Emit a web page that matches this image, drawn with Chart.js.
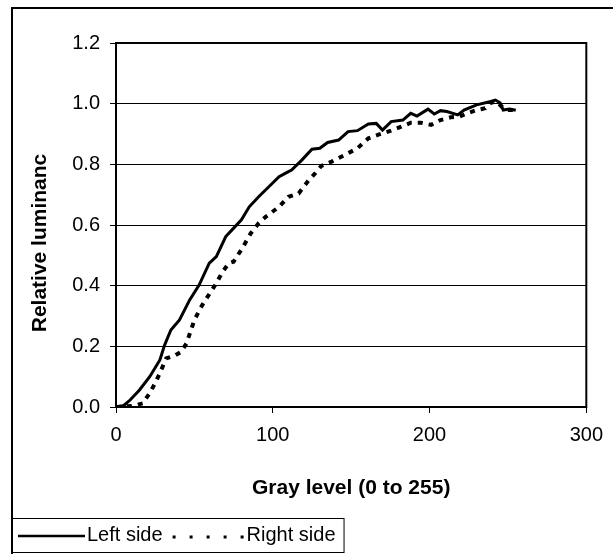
<!DOCTYPE html>
<html>
<head>
<meta charset="utf-8">
<script src="https://cdn.jsdelivr.net/npm/chart.js@4/dist/chart.umd.min.js"></script>
<style>
  html, body { margin: 0; padding: 0; background: #fff; }
  #wrap { width: 613px; height: 554px; position: relative; }
</style>
</head>
<body>
<div id="wrap"><canvas id="c" width="613" height="554"></canvas></div>
<script>
// ---- data ----
const leftGray = [0, 5, 9, 15, 21.5, 28, 31, 35, 40.5, 47, 53, 59.5, 64, 70, 74, 80, 85, 91, 97.5, 104, 110, 112, 118.5, 125, 130, 135, 142, 148, 154, 161, 166, 170, 175.5, 183, 188, 192, 199, 203, 207, 211, 218, 222, 230, 239, 242, 245, 247, 251, 255];
const leftLum  = [0, 0.005, 0.023, 0.056, 0.10, 0.155, 0.204, 0.254, 0.287, 0.353, 0.402, 0.474, 0.496, 0.562, 0.584, 0.617, 0.660, 0.693, 0.726, 0.759, 0.776, 0.781, 0.814, 0.850, 0.853, 0.872, 0.880, 0.908, 0.911, 0.933, 0.935, 0.913, 0.941, 0.946, 0.968, 0.959, 0.982, 0.966, 0.977, 0.974, 0.963, 0.979, 0.996, 1.007, 1.012, 1.003, 0.979, 0.982, 0.978];
const rightGray = [0, 10, 17, 21.5, 25, 28, 32, 38, 41.5, 45, 50, 55, 64, 68, 72, 75, 80.5, 86, 91, 95.5, 104, 110, 116.5, 123, 127, 131, 137.5, 146, 154, 161, 167, 175.5, 182, 188, 194.5, 201, 207, 213.5, 219, 224, 230, 235.5, 239, 243, 246, 249, 255];
const rightLum  = [0, 0.003, 0.012, 0.046, 0.079, 0.112, 0.16, 0.171, 0.182, 0.21, 0.287, 0.336, 0.408, 0.446, 0.474, 0.479, 0.523, 0.573, 0.606, 0.627, 0.660, 0.693, 0.704, 0.748, 0.770, 0.795, 0.809, 0.831, 0.853, 0.886, 0.897, 0.911, 0.924, 0.937, 0.937, 0.930, 0.946, 0.955, 0.957, 0.968, 0.979, 0.985, 1.003, 1.007, 0.99, 0.979, 0.979];
const xTicks = [0, 100, 200, 300];
const yTicks = [0, 0.2, 0.4, 0.6, 0.8, 1.0, 1.2];
const seriesNames = ['Left side', 'Right side'];
const xTitle = 'Gray level (0 to 255)';
const yTitle = 'Relative luminanc';

const FONT = "'Liberation Sans', Arial, Helvetica, sans-serif";

function pts(xs, ys) { return xs.map((x, i) => ({ x: x, y: ys[i] })); }

const framePlugin = {
  id: 'frame',
  beforeDraw(chart) {
    const ctx = chart.ctx;
    ctx.save();
    ctx.fillStyle = '#fff';
    ctx.fillRect(0, 0, chart.width, chart.height);
    ctx.strokeStyle = '#000';
    ctx.lineWidth = 2;
    ctx.beginPath();
    ctx.moveTo(12, 554); ctx.lineTo(12, 8); ctx.lineTo(613, 8);
    ctx.stroke();
    ctx.restore();
  },
  afterDraw(chart) {
    const ctx = chart.ctx;
    const a = chart.chartArea;
    ctx.save();
    ctx.strokeStyle = '#000';
    ctx.lineWidth = 2;
    ctx.strokeRect(a.left, a.top, a.right - a.left, a.bottom - a.top);
    ctx.fillStyle = '#000';
    ctx.font = "bold 21px " + FONT;
    ctx.textAlign = 'center';
    ctx.textBaseline = 'middle';
    ctx.translate(40, 243);
    ctx.rotate(-Math.PI / 2);
    ctx.fillText(yTitle, 0, 0);
    ctx.restore();

    // legend box
    ctx.save();
    const ds = chart.data.datasets;
    const top = 518, bottom = 552, left = 12;
    const midY = 535;
    ctx.font = "20px " + FONT;
    ctx.textBaseline = 'middle';
    ctx.textAlign = 'left';
    let x = 18;
    ctx.strokeStyle = '#000';
    ctx.lineWidth = 2.5;
    ctx.setLineDash([]);
    ctx.beginPath(); ctx.moveTo(x, midY + 1); ctx.lineTo(x + 67, midY + 1); ctx.stroke();
    x += 69;
    ctx.fillStyle = '#000';
    ctx.fillText(ds[0].label, x, midY);
    x += ctx.measureText(ds[0].label).width + 8;
    ctx.lineWidth = 3;
    ctx.setLineDash([3, 14]);
    ctx.beginPath(); ctx.moveTo(x + 2, midY + 2); ctx.lineTo(x + 74, midY + 2); ctx.stroke();
    ctx.setLineDash([]);
    x += 76;
    ctx.fillText(ds[1].label, x, midY);
    x += ctx.measureText(ds[1].label).width + 8;
    ctx.lineWidth = 1;
    ctx.strokeRect(left + 0.5, top + 0.5, x - left, bottom - top);
    ctx.restore();
  }
};

new Chart(document.getElementById('c'), {
  type: 'scatter',
  data: {
    datasets: [
      {
        label: seriesNames[0],
        data: pts(leftGray, leftLum),
        showLine: true,
        borderColor: '#000',
        borderWidth: 3,
        pointRadius: 0,
        tension: 0
      },
      {
        label: seriesNames[1],
        data: pts(rightGray, rightLum),
        showLine: true,
        borderColor: '#000',
        borderWidth: 4,
        borderDash: [5, 6],
        pointRadius: 0,
        tension: 0
      }
    ]
  },
  options: {
    responsive: false,
    animation: false,
    devicePixelRatio: 1,
    layout: { padding: { left: 0, right: 23, top: 43, bottom: 0 } },
    plugins: { legend: { display: false }, tooltip: { enabled: false } },
    scales: {
      x: {
        type: 'linear',
        min: 0, max: 300,
        afterBuildTicks: s => { s.ticks = xTicks.map(v => ({ value: v })); },
        afterFit: s => { s.height = 147; },
        ticks: { color: '#000', font: { family: FONT, size: 20 }, padding: 10, maxRotation: 0 },
        grid: { drawOnChartArea: false, drawTicks: true, tickLength: 6, color: '#000', lineWidth: 1 },
        border: { display: true, color: '#000', width: 2 },
        title: { display: true, text: xTitle, color: '#000', font: { family: FONT, size: 21, weight: 'bold' }, padding: { top: 0, bottom: 53 } }
      },
      y: {
        min: 0, max: 1.2,
        afterBuildTicks: s => { s.ticks = yTicks.map(v => ({ value: v })); },
        afterFit: s => { s.width = 116; },
        ticks: { color: '#000', font: { family: FONT, size: 20 }, padding: 10, callback: v => Number(v).toFixed(1) },
        grid: { color: '#000', lineWidth: 1, tickLength: 6, drawTicks: true },
        border: { display: true, color: '#000', width: 2 }
      }
    }
  },
  plugins: [framePlugin]
});
</script>
</body>
</html>
